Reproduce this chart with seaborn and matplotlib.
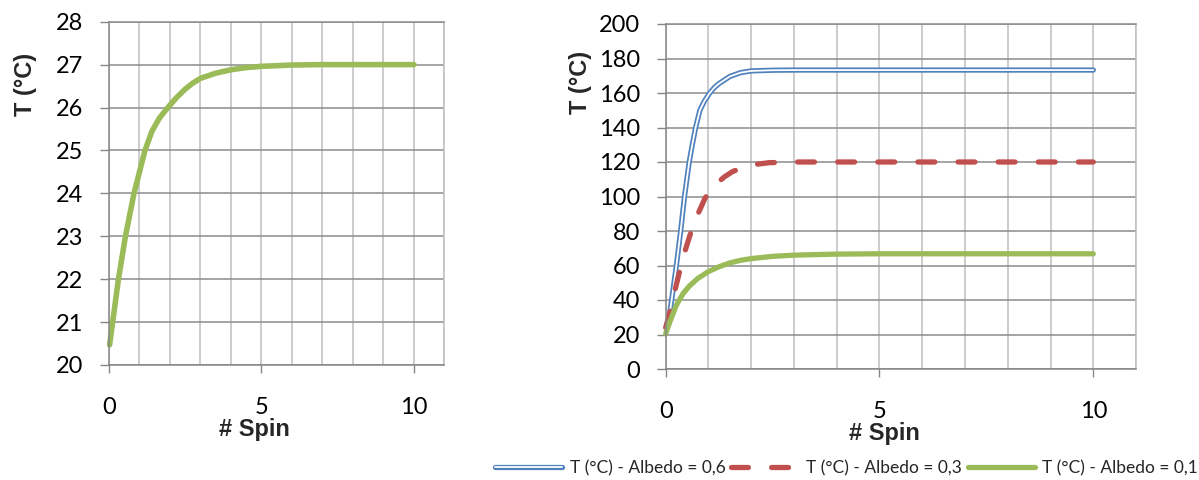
import numpy as np
import pandas as pd
import matplotlib
matplotlib.use("Agg")
import matplotlib.pyplot as plt
import matplotlib.patheffects as pe
from matplotlib.ticker import MultipleLocator
import seaborn as sns

# ---- data ----
spin_left = [0.02, 0.12, 0.31, 0.54, 0.82, 1.0, 1.18, 1.41, 1.65, 1.93, 2.2, 2.5, 2.75, 3.0, 3.5, 4.0, 4.5, 5.0, 6.0, 7.0, 10.0]
temp_left = [20.47, 21.0, 22.0, 23.0, 24.0, 24.5, 25.0, 25.45, 25.75, 26.0, 26.22, 26.43, 26.57, 26.68, 26.8, 26.88, 26.93, 26.96, 26.99, 27.0, 27.0]

spin_a06 = [0.02, 0.08, 0.14, 0.25, 0.35, 0.44, 0.55, 0.63, 0.70, 0.80, 0.91, 1.03, 1.14, 1.25, 1.5, 1.75, 2.0, 2.5, 3.0, 10.0]
temp_a06 = [25.0, 30.0, 40.0, 60.0, 80.0, 100.0, 120.0, 131.0, 140.0, 150.0, 155.5, 160.0, 163.2, 165.5, 169.6, 171.8, 172.8, 173.2, 173.3, 173.3]

spin_a03 = [0.0, 0.1, 0.21, 0.31, 0.41, 0.56, 0.72, 0.92, 1.05, 1.21, 1.38, 1.56, 1.78, 2.0, 2.42, 3.0, 4.0, 10.0]
temp_a03 = [24.0, 33.0, 45.0, 55.0, 65.0, 77.0, 88.0, 99.0, 104.0, 108.0, 111.5, 114.4, 116.6, 118.3, 119.6, 120.0, 120.0, 120.0]

spin_a01 = [0.0, 0.1, 0.25, 0.4, 0.55, 0.75, 1.0, 1.25, 1.5, 1.75, 2.0, 2.5, 3.0, 4.0, 5.0, 10.0]
temp_a01 = [20.5, 27.5, 37.0, 43.5, 48.0, 52.5, 56.5, 59.3, 61.5, 63.0, 64.0, 65.3, 66.0, 66.6, 66.8, 66.8]

series_labels = ["T (°C) - Albedo = 0,6", "T (°C) - Albedo = 0,3", "T (°C) - Albedo = 0,1"]
x_label = "# Spin"
y_label = "T (°C)"

BLUE = "#4F81BD"
RED = "#C0504D"
GREEN = "#9BBB59"
HGRID = "#8C8C8C"
VGRID = "#BFBFBF"
AXIS = "#868686"

sns.set_theme(style="white")
plt.rcParams['font.family'] = ['Lato', 'DejaVu Sans']

fig = plt.figure(figsize=(11.99, 4.8), dpi=100)
axL = fig.add_axes([0.0909, 0.2396, 0.2798, 0.7152])
axR = fig.add_axes([0.5552, 0.23125, 0.3923, 0.71875])

df_left = pd.DataFrame({"spin": spin_left, "T": temp_left})
sns.lineplot(data=df_left, x="spin", y="T", ax=axL, color=GREEN, lw=4.0,
             solid_capstyle="round", solid_joinstyle="round", sort=False,
             clip_on=False, legend=False)

df06 = pd.DataFrame({"spin": spin_a06, "T": temp_a06})
df03 = pd.DataFrame({"spin": spin_a03, "T": temp_a03})
df01 = pd.DataFrame({"spin": spin_a01, "T": temp_a01})

sns.lineplot(data=df06, x="spin", y="T", ax=axR, color="white", lw=1.3,
             solid_capstyle="round", solid_joinstyle="round", sort=False,
             clip_on=False, label=series_labels[0],
             path_effects=[pe.Stroke(linewidth=3.8, foreground=BLUE), pe.Normal()])
sns.lineplot(data=df03, x="spin", y="T", ax=axR, color=RED, lw=3.8,
             linestyle=(0, (3.2, 4.4)), dash_capstyle="round", dash_joinstyle="round",
             sort=False, clip_on=False, label=series_labels[1])
sns.lineplot(data=df01, x="spin", y="T", ax=axR, color=GREEN, lw=3.8,
             solid_capstyle="round", solid_joinstyle="round", sort=False,
             clip_on=False, label=series_labels[2])
handles = axR.get_lines()[:3]
if axR.get_legend() is not None:
    axR.get_legend().remove()

lab_font = dict(family=['Liberation Sans', 'DejaVu Sans'], weight='bold', size=17)

for ax, ylim, ystep, ylab_xy, xlab_xy in [
        (axL, (20, 28), 1, (-0.25, 0.818), (0.435, -0.189)),
        (axR, (0, 200), 20, (-0.182, 0.83), (0.466, -0.186))]:
    ax.set_xlim(0, 11)
    ax.set_ylim(*ylim)
    ax.xaxis.set_major_locator(MultipleLocator(5))
    ax.xaxis.set_minor_locator(MultipleLocator(1))
    ax.yaxis.set_major_locator(MultipleLocator(ystep))
    ax.set_xticks([0, 5, 10])
    ax.grid(True, axis='x', which='both', color=VGRID, lw=1.1)
    ax.grid(True, axis='y', which='major', color=HGRID, lw=1.1)
    ax.tick_params(axis='y', which='major', length=6.5, width=1.0, color=AXIS,
                   direction='out', pad=12, labelsize=17, left=True)
    ax.tick_params(axis='x', which='major', length=6, width=1.0, color=AXIS,
                   direction='out', pad=17, labelsize=17, bottom=True)
    ax.tick_params(axis='x', which='minor', length=0)
    for s in ['left', 'bottom']:
        ax.spines[s].set_color(AXIS)
        ax.spines[s].set_linewidth(1.1)
    ax.spines['top'].set_color(HGRID)
    ax.spines['right'].set_color(VGRID)
    ax.spines['top'].set_linewidth(1.1)
    ax.spines['right'].set_linewidth(1.1)
    ax.set_xlabel(x_label, fontdict=lab_font)
    ax.set_ylabel(y_label, fontdict=lab_font)
    ax.xaxis.set_label_coords(*xlab_xy)
    ax.yaxis.set_label_coords(*ylab_xy)
    ax.xaxis.label.set_va('center')
    ax.yaxis.label.set_va('center')
    for t in ax.get_xticklabels() + ax.get_yticklabels():
        t.set_color('black')

fig.legend(handles, series_labels, loc='center', bbox_to_anchor=(0.706, 0.025),
           ncol=3, frameon=False, fontsize=12.5, handlelength=3.85,
           handletextpad=0.43, columnspacing=0.35, borderaxespad=0, borderpad=0)

fig.savefig("out.png", dpi=100)
